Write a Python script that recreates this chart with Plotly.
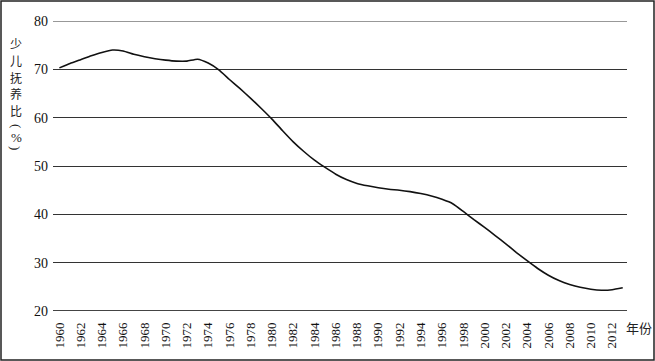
import plotly.graph_objects as go

years = list(range(1960, 2014))
ratio = [70.3, 71.2, 72.0, 72.8, 73.5, 74.0, 73.8, 73.1, 72.6, 72.2,
         71.9, 71.7, 71.7, 72.1, 71.3, 69.9, 67.9, 66.0, 64.0, 61.9,
         59.7, 57.3, 55.0, 53.0, 51.2, 49.7, 48.3, 47.2, 46.4, 45.9,
         45.5, 45.2, 45.0, 44.7, 44.3, 43.8, 43.1, 42.2, 40.6, 38.9,
         37.3, 35.6, 33.9, 32.1, 30.4, 28.8, 27.4, 26.3, 25.5, 24.9,
         24.5, 24.3, 24.4, 24.8]
x_ticks = list(range(1960, 2013, 2))
y_ticks = [20, 30, 40, 50, 60, 70, 80]
y_title_main = ["少", "儿", "抚", "养", "比"]
y_title_unit = ["(", "%", ")"]
x_title = "年份"

W, H = 655, 361
L, R, T, B = 53, 28, 21, 50
pw, ph = W - L - R, H - T - B

fig = go.Figure()
fig.add_trace(go.Scatter(x=years, y=ratio, mode="lines",
                         line=dict(color="#111", width=1.6, shape="spline", smoothing=0.5),
                         hoverinfo="skip", showlegend=False))

serif = "Liberation Serif, Times New Roman, serif"
fig.update_layout(
    width=W, height=H,
    margin=dict(l=L, r=R, t=T, b=B, autoexpand=False),
    paper_bgcolor="white", plot_bgcolor="white",
    xaxis=dict(range=[1959.4, 2013.4], tickvals=x_ticks, ticktext=[str(v) for v in x_ticks],
               tickangle=-90, showgrid=False, zeroline=False, automargin=False,
               showline=False, ticks="", ticklen=0, ticklabelstandoff=8,
               tickfont=dict(family=serif, size=13, color="#111")),
    yaxis=dict(range=[20, 80], tickvals=y_ticks, showgrid=True, gridcolor="#333",
               gridwidth=1.2, zeroline=False, showline=False, ticks="", automargin=False,
               ticklabelstandoff=4,
               tickfont=dict(family=serif, size=14, color="#111")),
)
# top gridline (hidden at plot edge otherwise)
fig.add_shape(type="line", xref="paper", yref="y", x0=0, x1=1, y0=80, y1=80,
              line=dict(color="#333", width=1.2))
# bottom axis line (thicker)
fig.add_shape(type="line", xref="paper", yref="y", x0=0, x1=1, y0=20, y1=20,
              line=dict(color="#444", width=2.2))

# outer frame
fig.add_shape(type="rect", xref="paper", yref="paper",
              x0=(1 - L) / pw, x1=(W - 1 - L) / pw,
              y0=(T + ph - (H - 1)) / ph, y1=(T + ph - 1) / ph,
              line=dict(color="#222", width=1.5), fillcolor="rgba(0,0,0,0)")

# vertical y-axis title
cjk = "Noto Sans CJK SC"
for i, ch in enumerate(y_title_main):
    fig.add_annotation(text=ch, xref="paper", yref="paper",
                       x=(16 - L) / pw, y=(T + ph - (43 + 17 * i)) / ph,
                       showarrow=False, xanchor="center", yanchor="middle",
                       font=dict(family=cjk, size=12, color="#222"))
unit_pos = [126, 137, 148]
unit_angle = [90, 0, 90]
for ch, yp, ang in zip(y_title_unit, unit_pos, unit_angle):
    fig.add_annotation(text=ch, xref="paper", yref="paper",
                       x=(16 - L) / pw, y=(T + ph - yp) / ph, textangle=ang,
                       showarrow=False, xanchor="center", yanchor="middle",
                       font=dict(family=serif, size=13, color="#222"))

fig.add_annotation(text=x_title, xref="paper", yref="paper",
                   x=(639 - L) / pw, y=(T + ph - 327) / ph,
                   showarrow=False, xanchor="center", yanchor="middle",
                   font=dict(family=cjk, size=13, color="#222"))

fig.write_html("out.html", config={"displayModeBar": False},
               post_script="document.body.style.margin='0';document.body.style.overflow='hidden';")
